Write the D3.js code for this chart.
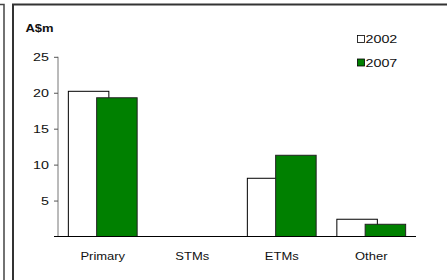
<!DOCTYPE html>
<html>
<head>
<meta charset="utf-8">
<script src="https://cdn.jsdelivr.net/npm/d3@7"></script>
<style>
  body { margin: 0; background: #fff; }
  svg { display: block; font-family: Arial, "Liberation Sans", sans-serif; }
</style>
</head>
<body>
<svg id="canvas" width="447" height="280"></svg>
<script>
let categories = ['Primary', 'STMs', 'ETMs', 'Other']
let years = ['2002', '2007']
let values2002 = [20.2, 0, 8.1, 2.4]
let values2007 = [19.3, 0, 11.3, 1.7]
let yTicks = [5, 10, 15, 20, 25]

let colors = { '2002': '#ffffff', '2007': '#008000' }

// the original picture is a little stretched sideways
let digitStretch = 1.3
let wordStretch = 1.18

let canvas = d3.select('#canvas')

// frames (previous panel edge + this panel)
canvas.append('path')
    .attr('d', 'M0,4.5 H4 V280')
    .attr('fill', 'none')
    .attr('stroke', '#444')
    .attr('stroke-width', 1.5)
canvas.append('path')
    .attr('d', 'M13,280 V4.5 H447')
    .attr('fill', 'none')
    .attr('stroke', '#333')
    .attr('stroke-width', 2)

let xScale = d3.scaleBand()
    .domain(categories)
    .range([58, 416])

let yScale = d3.scaleLinear()
    .domain([0, 25])
    .range([236.5, 56.8])

let barWidth = 40.5
let offset = 28.3

let series = [
    { year: '2002', values: values2002, shift: -offset / 2 },
    { year: '2007', values: values2007, shift: offset / 2 }
]

series.forEach((s) => {
    canvas.append('g')
        .selectAll('rect')
        .data(categories)
        .enter()
        .append('rect')
        .attr('x', (d) => xScale(d) + xScale.bandwidth() / 2 + s.shift - barWidth / 2)
        .attr('y', (d, i) => yScale(s.values[i]))
        .attr('width', barWidth)
        .attr('height', (d, i) => yScale(0) - yScale(s.values[i]))
        .attr('fill', colors[s.year])
        .attr('stroke', s.year === '2002' ? '#000' : '#222')
        .attr('stroke-width', 1)
})

// y axis
let yAxis = canvas.append('g')
    .attr('transform', 'translate(58,0)')
    .call(d3.axisLeft(yScale).tickValues(yTicks).tickSize(4).tickPadding(5))
yAxis.select('.domain').attr('stroke', '#777').attr('d', 'M0,' + yScale(25) + 'V' + yScale(0))
yAxis.selectAll('.tick line').attr('stroke', '#555')
yAxis.selectAll('text')
    .attr('x', -9 / digitStretch)
    .attr('transform', 'scale(' + digitStretch + ',1)')
    .attr('font-size', 11)
    .attr('font-family', 'Arial, "Liberation Sans", sans-serif')
    .attr('fill', '#111')

// x axis
canvas.append('line')
    .attr('x1', 54)
    .attr('x2', 416)
    .attr('y1', yScale(0))
    .attr('y2', yScale(0))
    .attr('stroke', '#000')
    .attr('stroke-width', 1.2)

canvas.append('g')
    .selectAll('text')
    .data(categories)
    .enter()
    .append('text')
    .attr('transform', (d) => 'translate(' + (xScale(d) + xScale.bandwidth() / 2) + ',259.5) scale(' + wordStretch + ',1)')
    .attr('text-anchor', 'middle')
    .attr('font-size', 11)
    .attr('fill', '#111')
    .text((d) => d)

// unit label
canvas.append('text')
    .attr('transform', 'translate(25.5,32) scale(' + wordStretch + ',1)')
    .attr('font-size', 11)
    .attr('font-weight', 'bold')
    .attr('fill', '#111')
    .text('A$m')

// legend
let legend = canvas.append('g')
    .selectAll('g')
    .data(years)
    .enter()
    .append('g')
    .attr('transform', (d, i) => 'translate(357.5,' + (35.5 + i * 23.5) + ')')

legend.append('rect')
    .attr('width', 7)
    .attr('height', 7)
    .attr('fill', (d) => colors[d])
    .attr('stroke', '#000')
    .attr('stroke-width', 0.8)

legend.append('text')
    .attr('transform', 'translate(8,7.5) scale(' + digitStretch + ',1)')
    .attr('font-size', 11)
    .attr('fill', '#111')
    .text((d) => d)
</script>
</body>
</html>
